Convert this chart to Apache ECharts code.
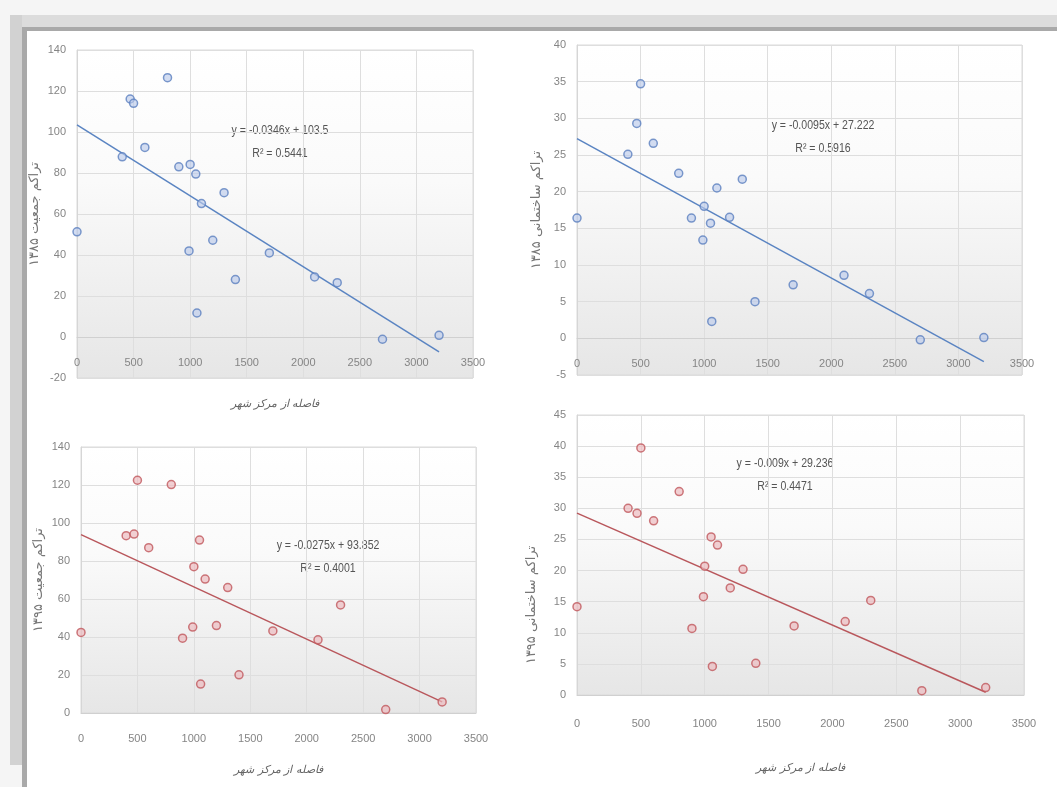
<!DOCTYPE html>
<html lang="fa">
<head>
    <meta charset="UTF-8">
    <title>Title</title>
    <script src="https://cdn.jsdelivr.net/npm/echarts@6/dist/echarts.min.js"></script>
    <style>
        html, body { margin:0; padding:0; background:#f5f5f5; }
        .bar-top { position:absolute; left:10px; top:15px; width:1047px; height:12px; background:#dcdcdc; }
        .bar-left { position:absolute; left:10px; top:15px; width:12px; height:750px; background:#d2d2d2; }
        .frame { position:absolute; left:22px; top:27px; width:1035px; height:760px; background:#fff;
                 border-top:4px solid #a9a9a9; border-left:5px solid #a9a9a9; box-sizing:border-box; }
        #container { position:absolute; left:0; top:0; width:1057px; height:787px; }
    </style>
</head>
<body>
<div class="bar-top"></div>
<div class="bar-left"></div>
<div class="frame"></div>
<div id="container"></div>
<script type="text/javascript">

    // distance from city centre, shared by the four charts
    var distance = [0, 400, 470, 500, 600, 800, 900, 990, 1000, 1050, 1060, 1100, 1200, 1300, 1400, 1700, 2100, 2300, 2700, 3200];
    var pop85 = [51.3, 87.9, 116.1, 114, 92.5, 126.5, 83, 42, 84.2, 79.5, 11.7, 65.1, 47.2, 70.4, 28, 41, 29.3, 26.5, -1.1, 0.8];
    var bld85 = [16.4, 25.1, 29.3, 34.7, 26.6, 22.5, 16.4, 13.4, 18, 15.7, 2.3, 20.5, 16.5, 21.7, 5, 7.3, 8.6, 6.1, -0.2, 0.1];
    var pop95 = [42.4, 93.3, 94.2, 122.5, 87, 120.2, 39.4, 45.2, 77, 91, 15.2, 70.5, 46, 66, 20.1, 43.2, 38.5, 56.9, 1.8, 5.8];
    var bld95 = [14.2, 30, 29.2, 39.7, 28, 32.7, 10.7, 15.8, 20.7, 25.4, 4.6, 24.1, 17.2, 20.2, 5.1, 11.1, 11.8, 15.2, 0.7, 1.2];

    var slopes = [-0.0346, -0.0095, -0.0275, -0.009];
    var intercepts = [103.5, 27.222, 93.852, 29.236];
    var trendEnd = 3200;
    var equations = ['y = -0.0346x + 103.5', 'y = -0.0095x + 27.222', 'y = -0.0275x + 93.852', 'y = -0.009x + 29.236'];
    var rSquared = ['R² = 0.5441', 'R² = 0.5916', 'R² = 0.4001', 'R² = 0.4471'];

    var yNames = ['تراکم جمعیت ۱۳۸۵', 'تراکم ساختمانی ۱۳۸۵', 'تراکم جمعیت ۱۳۹۵', 'تراکم ساختمانی ۱۳۹۵'];
    var xName = 'فاصله از مرکز شهر';
    var yMin = [-20, -5, 0, 0];
    var yMax = [140, 40, 140, 45];
    var yStep = [20, 5, 20, 5];
    var xMin = 0, xMax = 3500, xStep = 500;

    var values = [pop85, bld85, pop95, bld95];

    // layout of each panel: grid box, gaps, equation position
    var boxes = [[77, 50, 396, 328], [577, 45, 445, 330], [81, 447, 395, 266], [577, 415, 447, 280]];
    var xNameGap = [62, 0, 52, 68];
    var xLabelMargin = [20, 20, 20, 23];
    var yNameGap = [36, 34, 36, 39];
    var yNamePad = [[0, 0, 0, 0], [0, 0, 0, 0], [0, 0, 0, 0], [0, 100, 0, 0]];
    var eqPos = [[280, 127], [823, 122], [328, 542], [785, 460]];
    var blue = {line: '#5a84c2', border: '#5b7fbf', fill: 'rgba(186,202,234,0.8)'};
    var red = {line: '#b9575c', border: '#c0575d', fill: 'rgba(236,186,190,0.85)'};

    var labelFont = "'Liberation Sans', sans-serif";
    var gridBg = {
        type: 'linear', x: 0, y: 0, x2: 0, y2: 1,
        colorStops: [{offset: 0, color: '#ffffff'}, {offset: 0.4, color: '#fafafa'}, {offset: 1, color: '#e6e6e6'}]
    };

    function plain(v) {
        return String(v);
    }

    var grids = [], xAxes = [], yAxes = [], series = [], graphics = [];

    for (var i = 0; i < 4; i++) {
        var b = boxes[i];
        var col = i < 2 ? blue : red;
        // Excel draws the horizontal axis where y = 0
        var zeroShift = yMin[i] < 0 ? -b[3] * (0 - yMin[i]) / (yMax[i] - yMin[i]) : 0;
        grids.push({
            left: b[0], top: b[1], width: b[2], height: b[3],
            show: true, backgroundColor: gridBg, borderColor: '#dadada', borderWidth: 1
        });
        xAxes.push({
            type: 'value', gridIndex: i, min: xMin, max: xMax, interval: xStep,
            offset: zeroShift,
            name: i === 1 ? '' : xName, nameLocation: 'middle', nameGap: xNameGap[i],
            nameTextStyle: {color: '#666', fontSize: 11, fontStyle: 'italic', fontFamily: 'DejaVu Serif'},
            axisLine: {show: true, onZero: false, lineStyle: {color: '#d0d0d0'}},
            axisTick: {show: false},
            axisLabel: {color: '#858585', fontSize: 11, margin: xLabelMargin[i], fontFamily: labelFont, formatter: plain},
            splitLine: {show: true, lineStyle: {color: '#dedede'}}
        });
        yAxes.push({
            type: 'value', gridIndex: i, min: yMin[i], max: yMax[i], interval: yStep[i],
            name: yNames[i], nameLocation: 'middle', nameGap: yNameGap[i], nameRotate: 90,
            nameTextStyle: {color: '#777', fontSize: 13, fontFamily: 'DejaVu Sans', padding: yNamePad[i]},
            axisLine: {show: true, onZero: false, lineStyle: {color: '#d6d6d6'}},
            axisTick: {show: false},
            axisLabel: {color: '#858585', fontSize: 11, margin: 11, fontFamily: labelFont, formatter: plain},
            splitLine: {show: true, lineStyle: {color: '#dedede'}}
        });

        var pts = [];
        for (var k = 0; k < distance.length; k++) {
            pts.push([distance[k], values[i][k]]);
        }
        series.push({
            type: 'scatter', xAxisIndex: i, yAxisIndex: i,
            data: pts, symbol: 'circle', symbolSize: 8,
            itemStyle: {color: col.fill, borderColor: col.border, borderWidth: 1.5},
            z: 3
        });
        series.push({
            type: 'line', xAxisIndex: i, yAxisIndex: i,
            data: [[0, intercepts[i]], [trendEnd, intercepts[i] + slopes[i] * trendEnd]],
            showSymbol: false, silent: true,
            lineStyle: {color: col.line, width: 1.5},
            z: 2
        });

        graphics.push({
            type: 'text', x: eqPos[i][0], y: eqPos[i][1] - 8, scaleX: 0.88,
            style: {text: equations[i] + '\n' + rSquared[i], align: 'center', verticalAlign: 'top',
                lineHeight: 23, fill: '#555', font: "12px 'Liberation Sans', sans-serif"}
        });
    }

    var myChart = echarts.init(document.getElementById('container'));
    myChart.setOption({
        animation: false,
        backgroundColor: 'transparent',
        grid: grids,
        xAxis: xAxes,
        yAxis: yAxes,
        series: series,
        graphic: graphics
    });
</script>
</body>
</html>
